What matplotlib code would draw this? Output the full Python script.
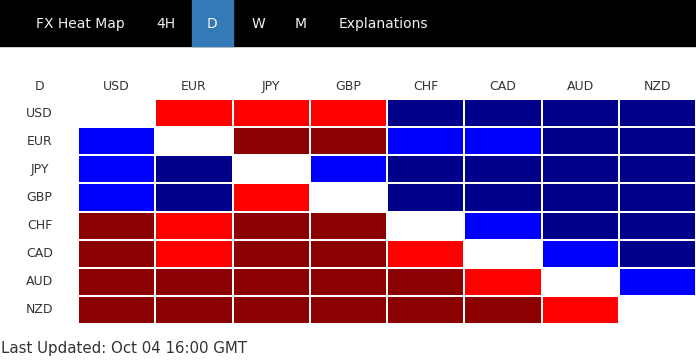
import numpy as np
import matplotlib
matplotlib.use("Agg")
import matplotlib.pyplot as plt
from matplotlib.colors import ListedColormap
from matplotlib.patches import Rectangle

currencies = ["USD", "EUR", "JPY", "GBP", "CHF", "CAD", "AUD", "NZD"]
tabs = ["FX Heat Map", "4H", "D", "W", "M", "Explanations"]
active_tab = "D"
updated = "Last Updated: Oct 04 16:00 GMT"

# 0 = same currency, 1 = red, 2 = dark red, 3 = blue, 4 = dark blue
heat = [
    [0, 1, 1, 1, 4, 4, 4, 4],
    [3, 0, 2, 2, 3, 3, 4, 4],
    [3, 4, 0, 3, 4, 4, 4, 4],
    [3, 4, 1, 0, 4, 4, 4, 4],
    [2, 1, 2, 2, 0, 3, 4, 4],
    [2, 1, 2, 2, 1, 0, 3, 4],
    [2, 2, 2, 2, 2, 1, 0, 3],
    [2, 2, 2, 2, 2, 2, 1, 0],
]

W, H = 696, 360
fig = plt.figure(figsize=(W / 100, H / 100), dpi=100)

# top menu bar
fig.add_artist(Rectangle((0, 1 - 46 / H), 1, 46 / H, transform=fig.transFigure,
                         color="black", zorder=0))
tab_x = [80, 166, 212, 258, 301, 383.5]
for name, x in zip(tabs, tab_x):
    if name == active_tab:
        fig.add_artist(Rectangle(((x - 20.5) / W, 1 - 46 / H), 41 / W, 46 / H,
                                 transform=fig.transFigure, color="#337ab7", zorder=1))
    fig.text(x / W, 1 - 24 / H, name, ha="center", va="center", fontsize=10,
             color="#f2f2f2", zorder=2)

# heat map grid
pitch_x, pitch_y = 77.25, 28.1
left = 78 - pitch_x
top = 99 - pitch_y
ax = fig.add_axes([left / W, (H - 324) / H, 9 * pitch_x / W, (324 - top) / H])
cmap = ListedColormap(["white", "#ff0000", "#8b0000", "#0000ff", "#00008b"])
ax.pcolormesh(np.arange(9), np.arange(9), np.array(heat), cmap=cmap,
              vmin=-0.5, vmax=4.5, edgecolors="white", linewidth=1.2)
ax.set_xlim(-1, 8)
ax.set_ylim(8, -1)
ax.axis("off")

ax.text(-0.5, -0.45, active_tab, ha="center", va="center", fontsize=9, color="#333333")
for i, c in enumerate(currencies):
    ax.text(i + 0.5, -0.45, c, ha="center", va="center", fontsize=9, color="#333333")
    ax.text(-0.5, i + 0.5, c, ha="center", va="center", fontsize=9, color="#333333")

fig.text(1 / W, 1 - 348 / H, updated, ha="left", va="center", fontsize=10.8,
         color="#333333")

fig.savefig("out.png", dpi=100)
